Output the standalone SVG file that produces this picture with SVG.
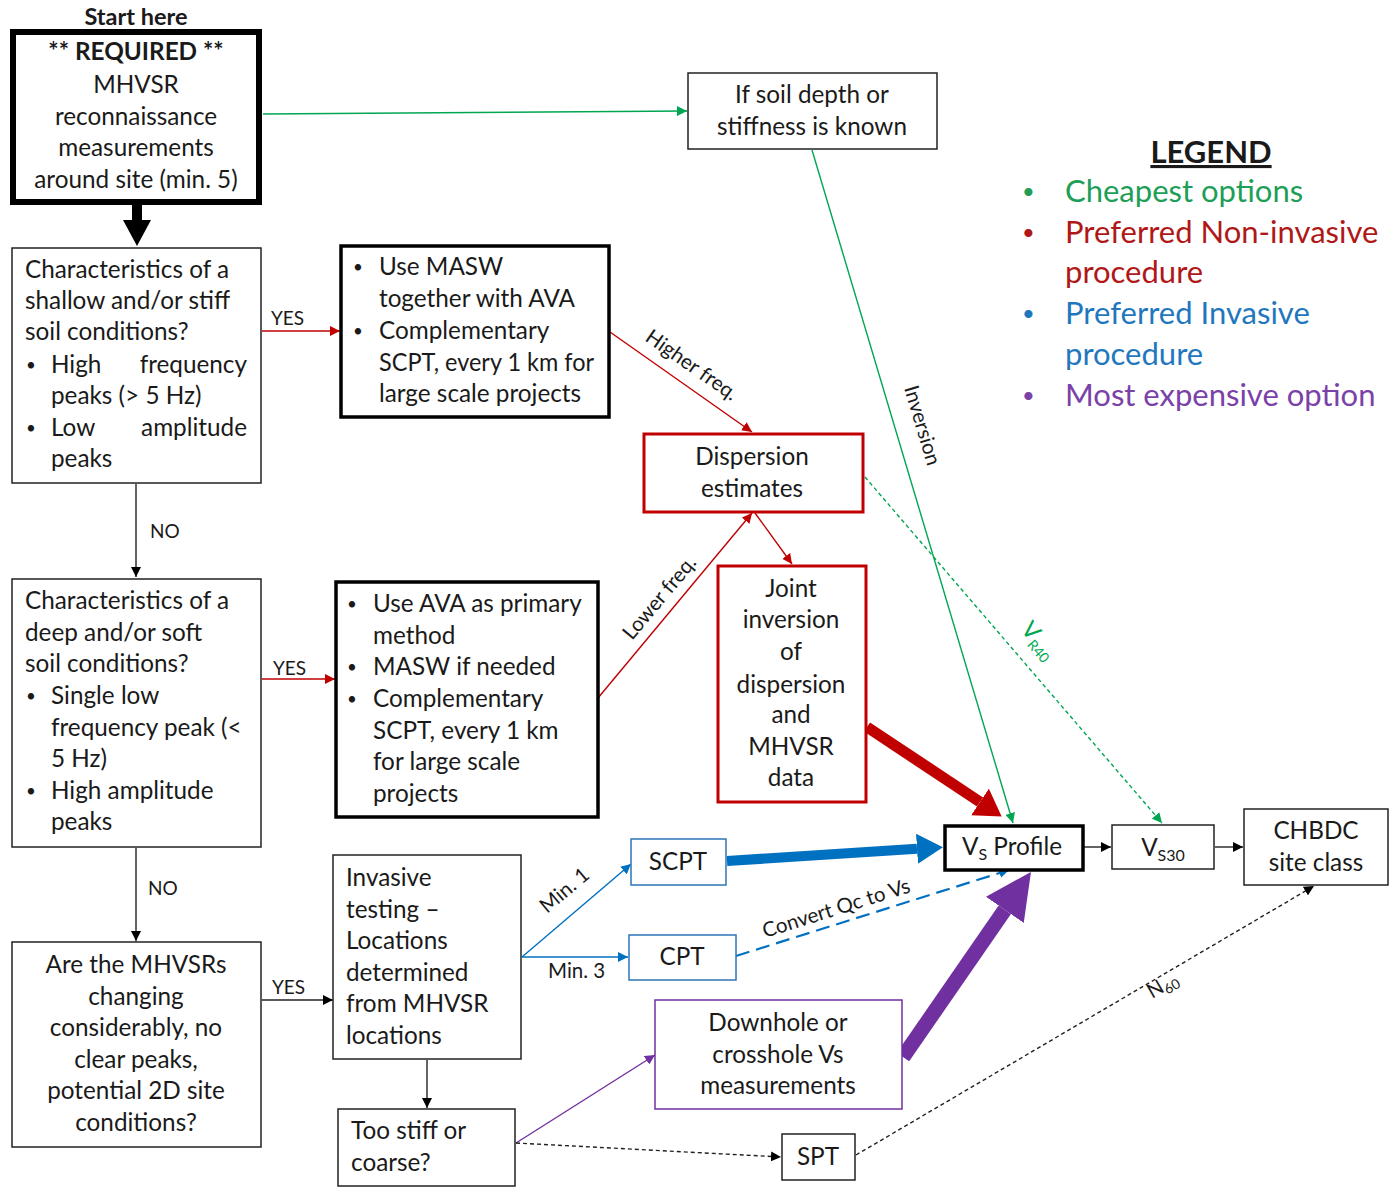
<svg xmlns="http://www.w3.org/2000/svg" width="1398" height="1193" viewBox="0 0 1398 1193">
<defs>
<style>
text{font-family:Lato,"Open Sans","Liberation Sans",sans-serif;fill:#1a1a1a}
.t{font-size:24.3px}
.c{text-anchor:middle}
.e{text-anchor:end}
.b{font-weight:bold}
.s{font-size:19px}
.r{font-size:20.5px}
.bu{font-size:17px}
.lg{font-size:31px}
.lb{font-size:22px}
.box{fill:#fff;stroke:#222;stroke-width:1.5}
.thk{fill:#fff;stroke:#000;stroke-width:3.5}
.red{fill:#fff;stroke:#C00000;stroke-width:3}
.blu{fill:#fff;stroke:#2E75B6;stroke-width:1.5}
.pur{fill:#fff;stroke:#7030A0;stroke-width:1.5}
.ln{fill:none;stroke-width:1.4}
</style>
<marker id="ak" markerUnits="userSpaceOnUse" markerWidth="10" markerHeight="10" viewBox="0 0 10 10" refX="10" refY="5" orient="auto"><path d="M0,0L10,5L0,10z" fill="#000"/></marker>
<marker id="ar" markerUnits="userSpaceOnUse" markerWidth="10" markerHeight="10" viewBox="0 0 10 10" refX="10" refY="5" orient="auto"><path d="M0,0L10,5L0,10z" fill="#C00000"/></marker>
<marker id="ag" markerUnits="userSpaceOnUse" markerWidth="10" markerHeight="10" viewBox="0 0 10 10" refX="10" refY="5" orient="auto"><path d="M0,0L10,5L0,10z" fill="#00A651"/></marker>
<marker id="ab" markerUnits="userSpaceOnUse" markerWidth="10" markerHeight="10" viewBox="0 0 10 10" refX="10" refY="5" orient="auto"><path d="M0,0L10,5L0,10z" fill="#0070C0"/></marker>
<marker id="ap" markerUnits="userSpaceOnUse" markerWidth="10" markerHeight="10" viewBox="0 0 10 10" refX="10" refY="5" orient="auto"><path d="M0,0L10,5L0,10z" fill="#7030A0"/></marker>
<marker id="bigR" markerUnits="userSpaceOnUse" markerWidth="26" markerHeight="32" viewBox="0 0 26 32" refX="0" refY="16" orient="auto"><path d="M0,0L26,16L0,32z" fill="#C00000"/></marker>
<marker id="bigB" markerUnits="userSpaceOnUse" markerWidth="26" markerHeight="30" viewBox="0 0 26 30" refX="0" refY="15" orient="auto"><path d="M0,0L26,15L0,30z" fill="#0070C0"/></marker>
<marker id="bigP" markerUnits="userSpaceOnUse" markerWidth="46" markerHeight="46" viewBox="0 0 46 46" refX="0" refY="23" orient="auto"><path d="M0,0L46,23L0,46z" fill="#7030A0"/></marker>
</defs>
<rect width="1398" height="1193" fill="#fff"/>

<g id="connectors">
  <line x1="137" y1="204" x2="137" y2="222" stroke="#000" stroke-width="10"/>
  <polygon points="123,220 151,220 137,246" fill="#000"/>
  <line class="ln" x1="263" y1="114" x2="687" y2="111" stroke="#00A651" marker-end="url(#ag)"/>
  <line class="ln" x1="262" y1="331" x2="340" y2="331" stroke="#C00000" marker-end="url(#ar)"/>
  <text class="s" x="271" y="325">YES</text>
  <line class="ln" x1="136" y1="484" x2="136" y2="577" stroke="#222" marker-end="url(#ak)"/>
  <text class="s" x="150" y="538">NO</text>
  <line class="ln" x1="262" y1="679" x2="335" y2="679" stroke="#C00000" marker-end="url(#ar)"/>
  <text class="s" x="273" y="675">YES</text>
  <line class="ln" x1="136" y1="848" x2="136" y2="941" stroke="#222" marker-end="url(#ak)"/>
  <text class="s" x="148" y="895">NO</text>
  <line class="ln" x1="262" y1="1000" x2="333" y2="1000" stroke="#222" marker-end="url(#ak)"/>
  <text class="s" x="272" y="994">YES</text>
  <line class="ln" x1="427" y1="1060" x2="427" y2="1108" stroke="#222" marker-end="url(#ak)"/>
  <line class="ln" x1="610" y1="332" x2="752" y2="432" stroke="#C00000" marker-end="url(#ar)"/>
  <text class="r" transform="translate(644,340) rotate(35)">Higher freq.</text>
  <line class="ln" x1="598" y1="698" x2="752" y2="513" stroke="#C00000" marker-end="url(#ar)"/>
  <text class="r" transform="translate(632,641) rotate(-50)">Lower freq.</text>
  <line class="ln" x1="755" y1="513" x2="792" y2="564" stroke="#C00000" marker-end="url(#ar)"/>
  <line class="ln" x1="812" y1="150" x2="1013" y2="823" stroke="#00A651" marker-end="url(#ag)"/>
  <text class="r" transform="translate(904,388) rotate(73.4)">Inversion</text>
  <line class="ln" x1="865" y1="477" x2="1162" y2="823" stroke="#00A651" stroke-dasharray="4,3" marker-end="url(#ag)"/>
  <text transform="translate(1020,630) rotate(49)" style="font-size:23px;fill:#00A651">V<tspan dy="5" style="font-size:14px;fill:#00A651">R40</tspan></text>
  <line x1="867" y1="727" x2="980" y2="802" stroke="#C00000" stroke-width="11" marker-end="url(#bigR)"/>
  <line x1="727" y1="861" x2="917" y2="848.8" stroke="#0070C0" stroke-width="10" marker-end="url(#bigB)"/>
  <line class="ln" x1="522" y1="957" x2="631" y2="864" stroke="#0070C0" marker-end="url(#ab)"/>
  <text class="r" transform="translate(547,914) rotate(-40)">Min. 1</text>
  <line class="ln" x1="522" y1="957" x2="628" y2="957" stroke="#0070C0" marker-end="url(#ab)"/>
  <text class="r" x="548" y="978">Min. 3</text>
  <line x1="736" y1="956" x2="1009" y2="870" stroke="#0070C0" stroke-width="2.2" stroke-dasharray="14,7" marker-end="url(#ab)"/>
  <text class="r" transform="translate(765,938) rotate(-17.5)">Convert Qc to Vs</text>
  <line x1="903" y1="1057" x2="1004.8" y2="909.8" stroke="#7030A0" stroke-width="15" marker-end="url(#bigP)"/>
  <line class="ln" x1="516" y1="1143" x2="655" y2="1055" stroke="#7030A0" marker-end="url(#ap)"/>
  <line class="ln" x1="516" y1="1143" x2="781" y2="1157" stroke="#222" stroke-dasharray="4,3" marker-end="url(#ak)"/>
  <line class="ln" x1="856" y1="1155" x2="1314" y2="886" stroke="#222" stroke-dasharray="4,3" marker-end="url(#ak)"/>
  <text class="r" transform="translate(1152,999) rotate(-30)">N<tspan dy="4" style="font-size:14px">60</tspan></text>
  <line class="ln" x1="1084" y1="847" x2="1111" y2="847" stroke="#222" marker-end="url(#ak)"/>
  <line class="ln" x1="1215" y1="847" x2="1243" y2="847" stroke="#222" marker-end="url(#ak)"/>
</g>

<g id="start">
  <text class="b c" x="136" y="25" style="font-size:23.5px">Start here</text>
  <rect x="13" y="32" width="246" height="170" fill="#fff" stroke="#000" stroke-width="6"/>
  <text class="t c b" x="136" y="60">** REQUIRED **</text>
  <text class="t c" x="136" y="93">MHVSR</text>
  <text class="t c" x="136" y="125">reconnaissance</text>
  <text class="t c" x="136" y="156">measurements</text>
  <text class="t c" x="136" y="188">around site (min. 5)</text>
</g>

<g id="q-shallow">
  <rect class="box" x="12" y="248" width="249" height="235"/>
  <text class="t" x="25" y="278">Characteristics of a</text>
  <text class="t" x="25" y="309">shallow and/or stiff</text>
  <text class="t" x="25" y="340">soil conditions?</text>
  <text class="bu" x="26" y="371">•</text>
  <text class="t" x="51" y="373">High</text>
  <text class="t e" x="247" y="373">frequency</text>
  <text class="t" x="51" y="404">peaks (&gt; 5 Hz)</text>
  <text class="bu" x="26" y="434">•</text>
  <text class="t" x="51" y="436">Low</text>
  <text class="t e" x="247" y="436">amplitude</text>
  <text class="t" x="51" y="467">peaks</text>
</g>

<g id="masw">
  <rect class="thk" x="341" y="246" width="268" height="171"/>
  <text class="bu" x="353" y="273">•</text>
  <text class="t" x="379" y="275">Use MASW</text>
  <text class="t" x="379" y="307">together with AVA</text>
  <text class="bu" x="353" y="337">•</text>
  <text class="t" x="379" y="339">Complementary</text>
  <text class="t" x="379" y="371" textLength="215" lengthAdjust="spacingAndGlyphs">SCPT, every 1 km for</text>
  <text class="t" x="379" y="402">large scale projects</text>
</g>

<g id="q-deep">
  <rect class="box" x="12" y="579" width="249" height="268"/>
  <text class="t" x="25" y="609">Characteristics of a</text>
  <text class="t" x="25" y="641">deep and/or soft</text>
  <text class="t" x="25" y="672">soil conditions?</text>
  <text class="bu" x="26" y="702">•</text>
  <text class="t" x="51" y="704">Single low</text>
  <text class="t" x="51" y="736">frequency peak (&lt;</text>
  <text class="t" x="51" y="767">5 Hz)</text>
  <text class="bu" x="26" y="797">•</text>
  <text class="t" x="51" y="799">High amplitude</text>
  <text class="t" x="51" y="830">peaks</text>
</g>

<g id="ava">
  <rect class="thk" x="336" y="582" width="262" height="235"/>
  <text class="bu" x="347" y="610">•</text>
  <text class="t" x="373" y="612">Use AVA as primary</text>
  <text class="t" x="373" y="644">method</text>
  <text class="bu" x="347" y="673">•</text>
  <text class="t" x="373" y="675">MASW if needed</text>
  <text class="bu" x="347" y="705">•</text>
  <text class="t" x="373" y="707">Complementary</text>
  <text class="t" x="373" y="739">SCPT, every 1 km</text>
  <text class="t" x="373" y="770">for large scale</text>
  <text class="t" x="373" y="802">projects</text>
</g>

<g id="q-changing">
  <rect class="box" x="12" y="942" width="249" height="205"/>
  <text class="t c" x="136" y="973">Are the MHVSRs</text>
  <text class="t c" x="136" y="1005">changing</text>
  <text class="t c" x="136" y="1036">considerably, no</text>
  <text class="t c" x="136" y="1068">clear peaks,</text>
  <text class="t c" x="136" y="1099">potential 2D site</text>
  <text class="t c" x="136" y="1131">conditions?</text>
</g>

<g id="invasive">
  <rect class="box" x="333" y="855" width="188" height="204"/>
  <text class="t" x="346" y="886">Invasive</text>
  <text class="t" x="346" y="918">testing –</text>
  <text class="t" x="346" y="949">Locations</text>
  <text class="t" x="346" y="981">determined</text>
  <text class="t" x="346" y="1012">from MHVSR</text>
  <text class="t" x="346" y="1044">locations</text>
</g>

<g id="too-stiff">
  <rect class="box" x="338" y="1109" width="177" height="77"/>
  <text class="t" x="351" y="1139">Too stiff or</text>
  <text class="t" x="351" y="1171">coarse?</text>
</g>

<g id="if-soil">
  <rect class="box" x="688" y="73" width="249" height="76"/>
  <text class="t c" x="812" y="103">If soil depth or</text>
  <text class="t c" x="812" y="135">stiffness is known</text>
</g>

<g id="dispersion">
  <rect class="red" x="644" y="434" width="219" height="78"/>
  <text class="t c" x="752" y="465">Dispersion</text>
  <text class="t c" x="752" y="497">estimates</text>
</g>

<g id="joint">
  <rect class="red" x="718" y="566" width="148" height="236"/>
  <text class="t c" x="791" y="597">Joint</text>
  <text class="t c" x="791" y="628">inversion</text>
  <text class="t c" x="791" y="660">of</text>
  <text class="t c" x="791" y="693">dispersion</text>
  <text class="t c" x="791" y="723">and</text>
  <text class="t c" x="791" y="755">MHVSR</text>
  <text class="t c" x="791" y="786">data</text>
</g>

<g id="scpt">
  <rect class="blu" x="631" y="839" width="95" height="46"/>
  <text class="t c" x="678" y="870">SCPT</text>
</g>

<g id="cpt">
  <rect class="blu" x="629" y="935" width="107" height="45"/>
  <text class="t c" x="682" y="965">CPT</text>
</g>

<g id="downhole">
  <rect class="pur" x="655" y="1000" width="247" height="109"/>
  <text class="t c" x="778" y="1031">Downhole or</text>
  <text class="t c" x="778" y="1063">crosshole Vs</text>
  <text class="t c" x="778" y="1094">measurements</text>
</g>

<g id="spt">
  <rect class="box" x="782" y="1134" width="73" height="46"/>
  <text class="t c" x="818" y="1165">SPT</text>
</g>

<g id="vs-profile">
  <rect class="thk" x="945" y="826" width="138" height="44"/>
  <text class="t c" x="1012" y="855">V<tspan dy="5" style="font-size:16px">S</tspan><tspan dy="-5"> Profile</tspan></text>
</g>

<g id="vs30">
  <rect class="box" x="1112" y="825" width="102" height="44"/>
  <text class="t c" x="1163" y="856">V<tspan dy="5" style="font-size:16px">S30</tspan></text>
</g>

<g id="chbdc">
  <rect class="box" x="1244" y="809" width="144" height="76"/>
  <text class="t c" x="1316" y="839">CHBDC</text>
  <text class="t c" x="1316" y="871">site class</text>
</g>

<g id="legend">
  <text class="lg b c" x="1211" y="163" text-decoration="underline">LEGEND</text>
  <text class="lb" x="1022" y="199" style="fill:#1E9E57">•</text>
  <text class="lg" x="1065" y="202" style="fill:#1E9E57">Cheapest options</text>
  <text class="lb" x="1022" y="240" style="fill:#B01818">•</text>
  <text class="lg" x="1065" y="243" style="fill:#B01818">Preferred Non-invasive</text>
  <text class="lg" x="1065" y="283" style="fill:#B01818">procedure</text>
  <text class="lb" x="1022" y="321" style="fill:#1F78BE">•</text>
  <text class="lg" x="1065" y="324" style="fill:#1F78BE">Preferred Invasive</text>
  <text class="lg" x="1065" y="365" style="fill:#1F78BE">procedure</text>
  <text class="lb" x="1022" y="403" style="fill:#7A42A8">•</text>
  <text class="lg" x="1065" y="406" style="fill:#7A42A8">Most expensive option</text>
</g>
</svg>
